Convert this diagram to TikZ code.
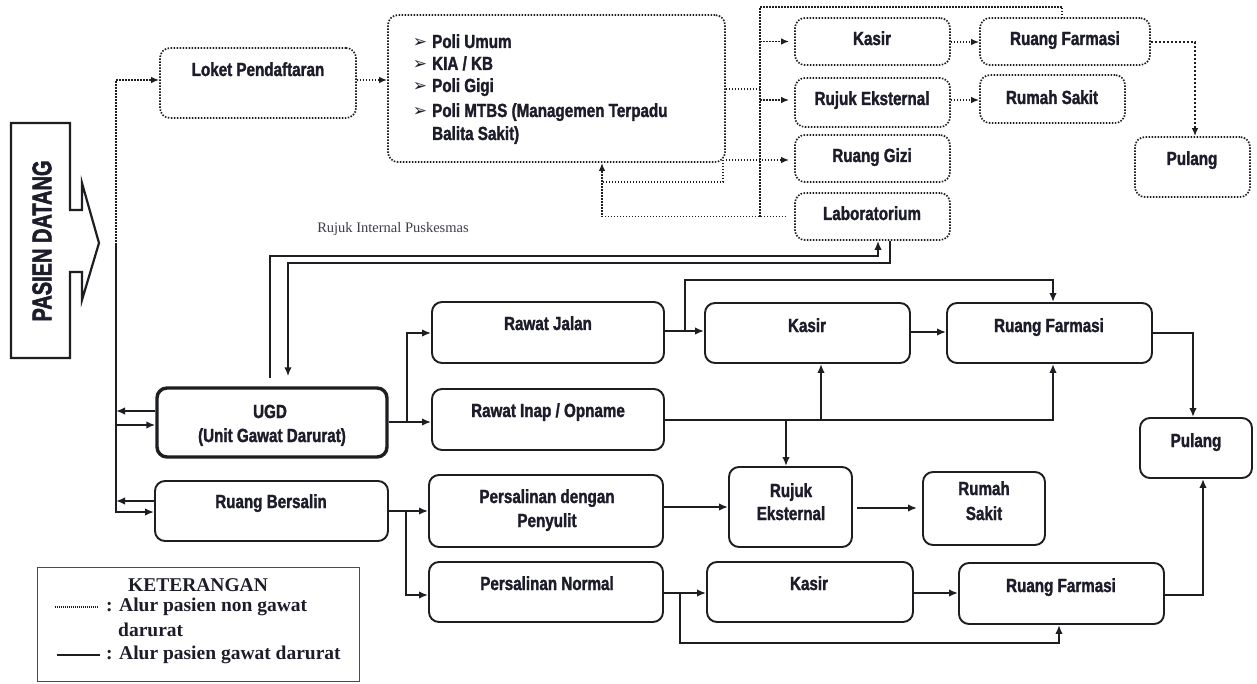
\documentclass[tikz,border=0pt]{standalone}
\usepackage{fontspec}
\setmainfont{Liberation Serif}
\newfontfamily\condf{Liberation Sans}[FakeStretch=0.8, BoldFeatures={FakeBold=1.6}]
\newfontfamily\condx{Liberation Sans}[FakeStretch=0.74, BoldFeatures={FakeBold=2}]
\newfontfamily\djv{DejaVu Sans}
\usetikzlibrary{arrows.meta,fit}
\definecolor{ink}{RGB}{28,28,42}
\definecolor{ln}{RGB}{30,30,34}
\begin{document}
\begin{tikzpicture}[x=1pt,y=-1pt,
  dbox/.style={draw=ln, line width=1.7pt, dash pattern=on 1.5pt off 1.5pt, rounded corners=10pt, inner sep=0pt},
  sbox/.style={draw=ln, line width=1.9pt, rounded corners=10pt, inner sep=0pt},
  tbox/.style={draw=ln, line width=3.4pt, rounded corners=10pt, inner sep=0pt},
  lbl/.style={text=ink, font=\condf\bfseries\fontsize{19}{22}\selectfont, inner sep=0pt, text height=14pt, text depth=4pt},
  leg/.style={text=ink, font=\bfseries\fontsize{19.5}{23}\selectfont, inner sep=0pt, text height=13pt, text depth=4pt},
  dl/.style={draw=ln, line width=1.7pt, dash pattern=on 1.5pt off 1.5pt},
  sl/.style={draw=ln, line width=2.7pt},
  tip/.style={-{Latex[length=9pt,width=7.5pt]}},
  dtip/.style={-{Latex[length=8pt,width=6.5pt]}},
]
\fill[white] (0,0) rectangle (1257,684);
\useasboundingbox (0,0) rectangle (1257,684);

% ---------- PASIEN DATANG ----------
\draw[draw=ln, line width=2.2pt, line join=miter] (11,123) -- (70,123) -- (70,210) -- (82,210) -- (82,183) -- (99,243) -- (82,300) -- (82,272) -- (70,272) -- (70,358) -- (11,358) -- cycle;
\node[rotate=90, text=ink, inner sep=0pt, font=\condx\bfseries\fontsize{27}{30}\selectfont] (pasien) at (42,241) {PASIEN DATANG};

% ---------- top (non emergency) boxes ----------
\node[dbox, fit={(160,48)(356,118)}] (loket) {};
\node[lbl] (loket-t) at (258,71) {Loket Pendaftaran};

\node[dbox, fit={(388,15)(725,162)}] (poli) {};
\node[lbl, anchor=west] (p1) at (432,43) {\llap{\djv\fontsize{17}{17}\selectfont ➢\hspace{5pt}}Poli Umum};
\node[lbl, anchor=west] (p2) at (432,65) {\llap{\djv\fontsize{17}{17}\selectfont ➢\hspace{5pt}}KIA / KB};
\node[lbl, anchor=west] (p3) at (432,87) {\llap{\djv\fontsize{17}{17}\selectfont ➢\hspace{5pt}}Poli Gigi};
\node[lbl, anchor=west] (p4) at (432,112) {\llap{\djv\fontsize{17}{17}\selectfont ➢\hspace{5pt}}Poli MTBS (Managemen Terpadu};
\node[lbl, anchor=west] (p5) at (432,135) {Balita Sakit)};

\node[dbox, fit={(795,18)(950,65)}] (kasA) {};
\node[lbl] (kasA-t) at (872,40) {Kasir};
\node[dbox, fit={(980,18)(1150,65)}] (rfA) {};
\node[lbl] (rfA-t) at (1065,40) {Ruang Farmasi};
\node[dbox, fit={(795,78)(950,127)}] (reA) {};
\node[lbl] (reA-t) at (872,100) {Rujuk Eksternal};
\node[dbox, fit={(980,75)(1125,123)}] (rsA) {};
\node[lbl] (rsA-t) at (1052,99) {Rumah Sakit};
\node[dbox, fit={(795,135)(950,182)}] (gizi) {};
\node[lbl] (gizi-t) at (872,157) {Ruang Gizi};
\node[dbox, fit={(795,193)(950,240)}] (lab) {};
\node[lbl] (lab-t) at (872,215) {Laboratorium};
\node[dbox, fit={(1135,137)(1250,197)}] (pulA) {};
\node[lbl] (pulA-t) at (1192,160) {Pulang};

% ---------- dotted connectors ----------
\coordinate (jt) at (116,245);
\coordinate (tt) at (760,7);
\coordinate (tb) at (760,217);
\coordinate (lp) at (602,182);
\draw[dl,dtip] (jt) |- (loket.west |- 0,80);
\draw[dl,dtip] (loket.east |- 0,80) -- (poli.west |- 0,80);
\draw[dl] (poli.east |- 0,89) -- (tt |- 0,89);
\draw[dl] (tb) -- (tt) -| (rfA.north -| 1062,0);
\draw[dl,dtip,shorten >=5pt] (tt |- kasA.west) -- (kasA.west);
\draw[dl,dtip,shorten >=5pt] (tt |- 0,100) -- (reA.west |- 0,100);
\draw[dl,dtip,shorten >=5pt] (poli.east |- 0,160) -- (gizi.west |- 0,160);
\draw[dl] (723,160) |- (lp);
\draw[dl,dtip,shorten <=8pt] (lab.west) -| (poli.south -| lp);
\draw[dl,dtip] (kasA.east |- 0,42) -- (rfA.west |- 0,42);
\draw[dl,dtip] (reA.east |- 0,100) -- (rsA.west |- 0,100);
\draw[draw=ln, line width=2.8pt, dash pattern=on 2.2pt off 1.8pt, dtip] (rfA.east |- 0,42) -| (pulA.north -| 1195,0);

% ---------- emergency boxes ----------
\node[tbox, fit={(157,388)(387,457)}] (ugd) {};
\node[lbl] (ugd-t1) at (270,413) {UGD};
\node[lbl] (ugd-t2) at (272,437) {(Unit Gawat Darurat)};
\node[sbox, fit={(155,481)(388,541)}] (rb) {};
\node[lbl] (rb-t) at (271,503) {Ruang Bersalin};

\node[sbox, fit={(432,302)(664,363)}] (rj) {};
\node[lbl] (rj-t) at (548,325) {Rawat Jalan};
\node[sbox, fit={(432,389)(664,450)}] (ri) {};
\node[lbl] (ri-t) at (548,412) {Rawat Inap / Opname};
\node[sbox, fit={(429,475)(663,547)}] (pdp) {};
\node[lbl] (pdp-t1) at (547,498) {Persalinan dengan};
\node[lbl] (pdp-t2) at (547,522) {Penyulit};
\node[sbox, fit={(429,562)(663,622)}] (pn) {};
\node[lbl] (pn-t) at (547,585) {Persalinan Normal};

\node[sbox, fit={(705,303)(910,363)}] (kasB) {};
\node[lbl] (kasB-t) at (807,327) {Kasir};
\node[sbox, fit={(947,303)(1152,363)}] (rfB) {};
\node[lbl] (rfB-t) at (1049,327) {Ruang Farmasi};
\node[sbox, fit={(1140,418)(1252,478)}] (pulB) {};
\node[lbl] (pulB-t) at (1196,442) {Pulang};

\node[sbox, fit={(729,467)(852,547)}] (rujB) {};
\node[lbl] (rujB-t1) at (791,492) {Rujuk};
\node[lbl] (rujB-t2) at (791,515) {Eksternal};
\node[sbox, fit={(923,472)(1045,545)}] (rsB) {};
\node[lbl] (rsB-t1) at (984,490) {Rumah};
\node[lbl] (rsB-t2) at (984,515) {Sakit};

\node[sbox, fit={(707,562)(913,622)}] (kasC) {};
\node[lbl] (kasC-t) at (809,585) {Kasir};
\node[sbox, fit={(959,563)(1164,624)}] (rfC) {};
\node[lbl] (rfC-t) at (1061,587) {Ruang Farmasi};

\node[text=ink!85, inner sep=0pt, font=\fontsize{14.5}{16}\selectfont] (rip) at (393,229) {Rujuk Internal Puskesmas};

% ---------- solid connectors ----------
\draw[sl,tip] (jt) |- (rb.west |- 0,512);
\draw[sl,tip] (jt |- 0,425) -- (ugd.west |- 0,425);
\draw[sl,tip] (ugd.west |- 0,411) -- (jt |- 0,411);
\draw[sl,tip] (rb.west |- 0,501) -- (jt |- 0,501);

\draw[sl,tip,shorten <=8pt] (ugd.north -| 270,0) |- (878,256) -- (lab.south -| 878,0);
\draw[sl,tip,shorten >=10pt] (lab.south -| 890,0) |- (288,263) -- (ugd.north -| 288,0);

\coordinate (ju) at (407,422);
\draw[sl,tip] (ugd.east |- ju) -- (ri.west |- ju);
\draw[sl,tip] (ju) |- (rj.west |- 0,333);

\draw[sl,tip] (rj.east |- 0,331) -- (kasB.west |- 0,331);
\draw[sl,tip] (685,331) -- (685,280) -| (rfB.north -| 1053,0);
\draw[sl,tip] (kasB.east |- 0,332) -- (rfB.west |- 0,332);
\draw[sl,tip] (rfB.east |- 0,333) -| (pulB.north -| 1193,0);

\draw[sl,tip] (ri.east |- 0,420) -| (rfB.south -| 1053,0);
\draw[sl,tip] (821,420) -- (kasB.south -| 821,0);
\draw[sl,tip] (786,420) -- (rujB.north -| 786,0);

\coordinate (jb) at (406,511);
\draw[sl,tip] (rb.east |- jb) -- (pdp.west |- jb);
\draw[sl,tip] (jb) |- (pn.west |- 0,595);
\draw[sl,tip] (pdp.east |- 0,507) -- (rujB.west |- 0,507);
\draw[sl,tip,shorten <=4pt,shorten >=5pt] (rujB.east |- 0,508) -- (rsB.west |- 0,508);

\draw[sl,tip] (pn.east |- 0,593) -- (kasC.west |- 0,593);
\draw[sl,tip] (680,593) -- (680,643) -| (rfC.south -| 1059,0);
\draw[sl,tip] (kasC.east |- 0,593) -- (rfC.west |- 0,593);
\draw[sl,tip] (rfC.east |- 0,595) -| (pulB.south -| 1203,0);

% ---------- legend ----------
\node[draw=ln!80, line width=1pt, inner sep=0pt, fit={(37,567)(359,681)}] (legend) {};
\node[leg] (legT) at (198,587) {KETERANGAN};
\draw[draw=ln, line width=1.2pt, dash pattern=on 1pt off 1pt] (legend.west |- 0,607) ++(18,0) coordinate (ld1) -- ++(43,0) coordinate (ld2);
\node[leg, anchor=west] (leg1) at (106,607) {: Alur pasien non gawat};
\node[leg, anchor=west] (leg2) at (118,632) {darurat};
\draw[draw=ln, line width=2.2pt] (legend.west |- 0,655) ++(20,0) coordinate (ls1) -- ++(43,0) coordinate (ls2);
\node[leg, anchor=west] (leg3) at (106,655) {: Alur pasien gawat darurat};
\end{tikzpicture}
\end{document}
